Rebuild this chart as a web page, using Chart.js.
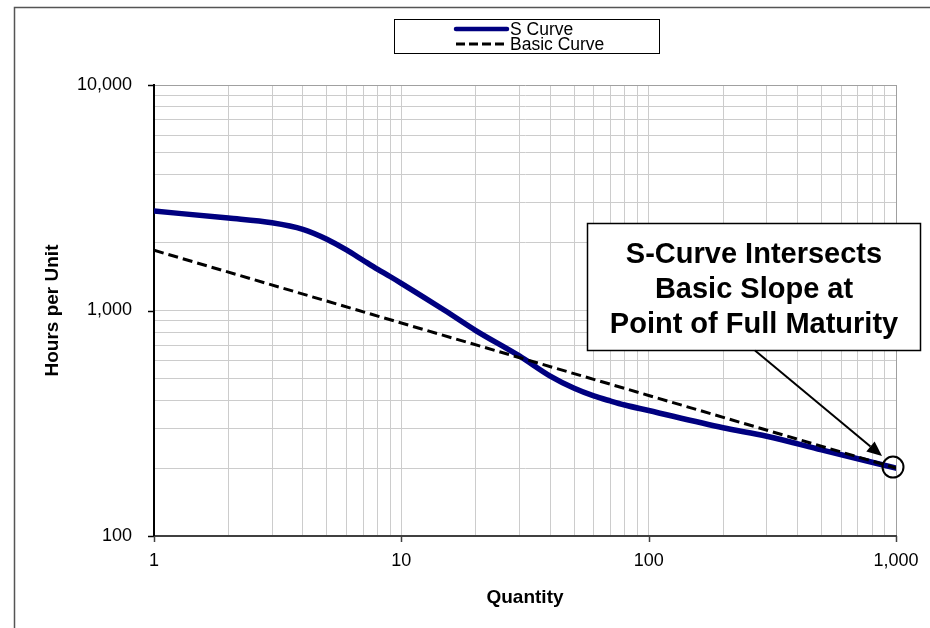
<!DOCTYPE html>
<html>
<head>
<meta charset="utf-8">
<script src="https://cdn.jsdelivr.net/npm/chart.js@4/dist/chart.umd.min.js"></script>
<style>
  body { margin: 0; background: #fff; }
  #wrap { width: 930px; height: 628px; }
</style>
</head>
<body>
<div id="wrap"><canvas id="grafico"></canvas></div>
<script>
// --- dados ---
const quantity = [1, 2, 3, 4, 5, 6, 7, 8, 9, 10, 15, 20, 30, 40, 50, 60, 70, 80, 100, 200, 300, 500, 700, 1000];
const sCurveHours = [2760, 2570, 2450, 2290, 2070, 1855, 1670, 1525, 1415, 1320, 1000, 815, 629, 512, 452, 418, 397, 381, 360, 302, 277, 241, 220, 200];
const basicQuantity = [1, 10, 100, 1000];
const basicHours = [1850, 880, 420, 200];

const xGridValues = [1, 2, 3, 4, 5, 6, 7, 8, 9, 10, 20, 30, 40, 50, 60, 70, 80, 90, 100, 200, 300, 400, 500, 600, 700, 800, 900, 1000];
const yGridValues = [100, 200, 300, 400, 500, 600, 700, 800, 900, 1000, 2000, 3000, 4000, 5000, 6000, 7000, 8000, 9000, 10000];
const xLabels = [1, 10, 100, 1000];
const yLabels = [100, 1000, 10000];
const calloutLines = ['S-Curve Intersects', 'Basic Slope at', 'Point of Full Maturity'];
const fullMaturity = { x: 1000, y: 200 };

const FONT = "'Liberation Sans', Arial, sans-serif";
const fmt = v => v.toLocaleString('en-US');

function pts(xs, ys) {
    return xs.map((x, i) => ({ x: x, y: ys[i] }));
}

// --- moldura, legenda, marcas e anotação ---
const extras = {
    id: 'extras',
    beforeDraw(chart) {
        const c = chart.ctx;
        c.save();
        c.strokeStyle = '#555';
        c.lineWidth = 1.5;
        c.beginPath();
        c.moveTo(14.5, 630);
        c.lineTo(14.5, 7.5);
        c.lineTo(932, 7.5);
        c.stroke();
        c.restore();
    },
    afterDraw(chart) {
        const c = chart.ctx;
        const xs = chart.scales.x, ys = chart.scales.y;
        const area = chart.chartArea;
        c.save();

        // tick marks (só os principais)
        c.strokeStyle = '#000';
        c.lineWidth = 1.5;
        yLabels.forEach(v => {
            const y = Math.round(ys.getPixelForValue(v)) + 0.5;
            c.beginPath(); c.moveTo(area.left - 6, y); c.lineTo(area.left, y); c.stroke();
        });
        c.strokeStyle = '#404040';
        xLabels.forEach(v => {
            const x = Math.round(xs.getPixelForValue(v)) + 0.5;
            c.beginPath(); c.moveTo(x, area.bottom); c.lineTo(x, area.bottom + 6); c.stroke();
        });

        // legenda
        const lx = 394.5, ly = 19.5, lw = 265, lh = 34;
        c.fillStyle = '#fff';
        c.fillRect(lx, ly, lw, lh);
        c.strokeStyle = '#000';
        c.lineWidth = 1;
        c.strokeRect(lx, ly, lw, lh);
        const rows = [chart.data.datasets[0], chart.data.datasets[1]];
        rows.forEach((ds, i) => {
            const y = 29 + i * 15;
            c.strokeStyle = ds.borderColor;
            c.lineWidth = i === 0 ? 4.5 : 3;
            c.lineCap = i === 0 ? 'round' : 'butt';
            c.setLineDash(i === 0 ? [] : [9, 4]);
            c.beginPath(); c.moveTo(456, y); c.lineTo(507, y); c.stroke();
            c.setLineDash([]);
            c.fillStyle = '#000';
            c.font = '17.5px ' + FONT;
            c.textAlign = 'left';
            c.textBaseline = 'middle';
            c.fillText(ds.label, 510, y + 1);
        });

        // anotação
        const bx = 587.5, by = 223.5, bw = 333, bh = 127;
        c.fillStyle = '#fff';
        c.fillRect(bx, by, bw, bh);
        c.strokeStyle = '#000';
        c.lineWidth = 1.5;
        c.strokeRect(bx, by, bw, bh);
        c.fillStyle = '#000';
        c.font = 'bold 29px ' + FONT;
        c.textAlign = 'center';
        c.textBaseline = 'alphabetic';
        calloutLines.forEach((t, i) => c.fillText(t, 754, 263 + i * 35));

        const px = xs.getPixelForValue(fullMaturity.x) - 3;
        const py = ys.getPixelForValue(fullMaturity.y) - 1;
        c.lineWidth = 2;
        c.beginPath(); c.arc(px, py, 10.5, 0, Math.PI * 2); c.stroke();

        const sx = 755, sy = by + bh, tx = px - 11, ty = py - 11;
        const ang = Math.atan2(ty - sy, tx - sx);
        const hl = 15, hw = 6.5;
        const bxh = tx - hl * Math.cos(ang), byh = ty - hl * Math.sin(ang);
        c.beginPath(); c.moveTo(sx, sy); c.lineTo(bxh, byh); c.stroke();
        c.beginPath();
        c.moveTo(tx, ty);
        c.lineTo(bxh + hw * Math.sin(ang), byh - hw * Math.cos(ang));
        c.lineTo(bxh - hw * Math.sin(ang), byh + hw * Math.cos(ang));
        c.closePath();
        c.fill();
        c.restore();
    }
};

function gridColor(ctx, ends) {
    const v = ctx.tick && ctx.tick.value;
    return ends.includes(v) ? '#a0a0a0' : '#cccccc';
}

const ctx = document.getElementById('grafico').getContext('2d');
new Chart(ctx, {
    type: 'line',
    data: {
        datasets: [{
            label: 'S Curve',
            data: pts(quantity, sCurveHours),
            borderColor: '#000080',
            borderWidth: 5.5,
            pointRadius: 0,
            cubicInterpolationMode: 'monotone',
            borderCapStyle: 'round',
            order: 1
        }, {
            label: 'Basic Curve',
            data: pts(basicQuantity, basicHours),
            borderColor: '#000000',
            borderWidth: 3,
            borderDash: [10, 5],
            pointRadius: 0,
            order: 0
        }]
    },
    options: {
        responsive: true,
        maintainAspectRatio: false,
        animation: false,
        layout: { padding: { left: 0, right: 34, top: 85, bottom: 0 } },
        plugins: {
            legend: { display: false },
            tooltip: { enabled: false }
        },
        scales: {
            x: {
                type: 'logarithmic',
                min: 1, max: 1000,
                afterFit: s => { s.height = 92; s.paddingRight = 0; s.paddingLeft = 0; },
                afterBuildTicks: s => { s.ticks = xGridValues.map(v => ({ value: v })); },
                border: { color: '#404040', width: 2 },
                grid: { color: c => gridColor(c, [1000]), drawTicks: false },
                ticks: {
                    autoSkip: false, maxRotation: 0, padding: 14,
                    color: '#000', font: { family: FONT, size: 18 },
                    callback: v => xLabels.includes(v) ? fmt(v) : ''
                },
                title: {
                    display: true, text: 'Quantity', color: '#000',
                    font: { family: FONT, size: 19, weight: 'bold' },
                    padding: { top: 0, bottom: 19 }
                }
            },
            y: {
                type: 'logarithmic',
                min: 100, max: 10000,
                afterFit: s => { s.width = 154; },
                afterBuildTicks: s => { s.ticks = yGridValues.map(v => ({ value: v })); },
                border: { color: '#000', width: 2 },
                grid: { color: c => gridColor(c, [10000]), drawTicks: false },
                ticks: {
                    autoSkip: false, padding: 22,
                    color: '#000', font: { family: FONT, size: 18 },
                    callback: v => yLabels.includes(v) ? fmt(v) : ''
                },
                title: {
                    display: true, text: 'Hours per Unit', color: '#000',
                    font: { family: FONT, size: 19, weight: 'bold' },
                    padding: { top: 41, bottom: 0 }
                }
            }
        }
    },
    plugins: [extras]
});
</script>
</body>
</html>
